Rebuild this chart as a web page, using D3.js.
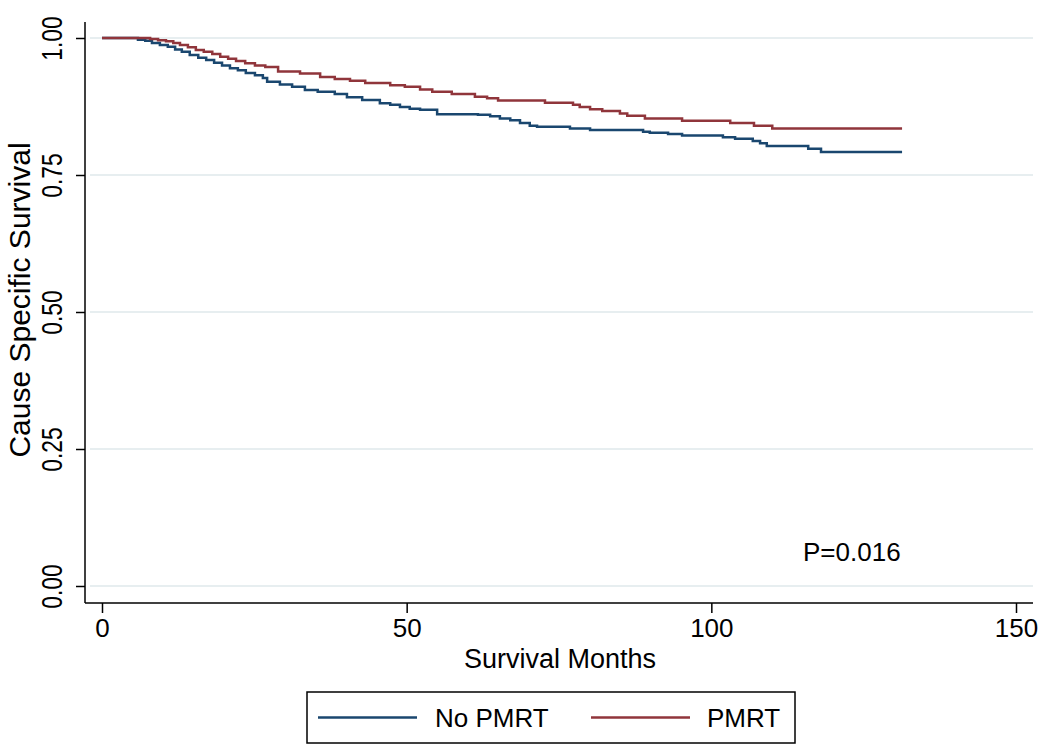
<!DOCTYPE html>
<html>
<head>
<meta charset="utf-8">
<script src="https://cdn.jsdelivr.net/npm/d3@7"></script>
<style>
  html, body { margin: 0; padding: 0; background: #ffffff; }
  svg { display: block; font-family: "Liberation Sans", Arial, Helvetica, sans-serif; }
</style>
</head>
<body>
<svg id="chart" width="1050" height="756"></svg>
<script>
// ---- data ----
const noPmrtMonths = [0, 5.9, 7.1, 8.2, 9.5, 10.8, 12.0, 13.1, 14.4, 15.8, 17.1, 18.4, 19.7, 21.0, 22.3, 23.6, 25.1, 26.4, 27.1, 29.2, 31.2, 33.3, 35.4, 38.2, 40.2, 42.7, 45.6, 47.3, 48.9, 50.5, 52.2, 55.0, 61.7, 63.7, 65.3, 67.0, 68.6, 70.2, 71.4, 76.8, 80.1, 88.8, 89.9, 92.9, 95.2, 101.9, 103.9, 106.8, 108.0, 109.1, 115.9, 118.0, 131.3];
const noPmrtSurv   = [1.000, 0.997, 0.995, 0.991, 0.987, 0.984, 0.979, 0.975, 0.969, 0.964, 0.960, 0.955, 0.950, 0.945, 0.941, 0.936, 0.932, 0.927, 0.920, 0.915, 0.911, 0.905, 0.902, 0.898, 0.892, 0.887, 0.881, 0.878, 0.874, 0.871, 0.869, 0.861, 0.860, 0.857, 0.853, 0.850, 0.845, 0.840, 0.838, 0.835, 0.832, 0.829, 0.827, 0.825, 0.822, 0.819, 0.816, 0.812, 0.808, 0.803, 0.798, 0.792, 0.792];

const pmrtMonths = [0, 7.9, 9.2, 10.5, 11.7, 12.8, 14.1, 15.4, 16.7, 18.1, 19.4, 20.7, 22.0, 23.5, 25.1, 26.8, 28.9, 32.5, 35.8, 38.2, 40.7, 43.2, 47.3, 49.7, 52.2, 54.2, 57.4, 61.2, 63.2, 65.0, 72.7, 77.3, 78.4, 80.1, 82.1, 85.0, 86.2, 89.1, 95.2, 103.1, 107.0, 110.0, 131.3];
const pmrtSurv   = [1.000, 0.998, 0.996, 0.994, 0.991, 0.987, 0.983, 0.978, 0.975, 0.971, 0.966, 0.962, 0.958, 0.954, 0.950, 0.947, 0.939, 0.935, 0.929, 0.925, 0.922, 0.918, 0.914, 0.911, 0.906, 0.902, 0.898, 0.893, 0.890, 0.886, 0.882, 0.878, 0.874, 0.870, 0.867, 0.862, 0.858, 0.853, 0.849, 0.845, 0.840, 0.835, 0.835];

const seriesNames = ["No PMRT", "PMRT"];
const xTicks = [0, 50, 100, 150];
const yTicks = [0, 0.25, 0.5, 0.75, 1.0];
const yTickLabels = ["0.00", "0.25", "0.50", "0.75", "1.00"];
const xTitle = "Survival Months";
const yTitle = "Cause Specific Survival";
const pLabel = "P=0.016";

// ---- layout ----
const colors = ["#1a476f", "#90353b"];
const svg = d3.select("#chart");
const x = d3.scaleLinear().domain([0, 150]).range([102, 1016]);
const y = d3.scaleLinear().domain([0, 1]).range([586, 38]);
const plotLeft = 85, plotRight = 1033, plotTop = 22, plotBottom = 603;

// gridlines
svg.append("g").selectAll("line").data(yTicks).join("line")
  .attr("x1", plotLeft + 5).attr("x2", plotRight)
  .attr("y1", d => y(d)).attr("y2", d => y(d))
  .attr("stroke", "#e7eef0").attr("stroke-width", 2);

// x axis
const xAxis = d3.axisBottom(x).tickValues(xTicks).tickSize(10).tickSizeOuter(0).tickPadding(6).tickFormat(d3.format("d"));
const gx = svg.append("g").attr("transform", `translate(0,${plotBottom})`).call(xAxis);
gx.select(".domain").remove();
gx.selectAll(".tick line").attr("stroke", "#000").attr("stroke-width", 1.5);
gx.selectAll(".tick text").attr("font-size", 26).attr("fill", "#000")
  .attr("font-family", "'Liberation Sans', Arial, sans-serif");

// y axis
const yAxis = d3.axisLeft(y).tickValues(yTicks).tickSize(9).tickSizeOuter(0).tickFormat((d, i) => yTickLabels[i]);
const gy = svg.append("g").attr("transform", `translate(${plotLeft},0)`).call(yAxis);
gy.select(".domain").remove();
gy.selectAll(".tick line").attr("stroke", "#000").attr("stroke-width", 1.5);
gy.selectAll(".tick text")
  .attr("font-size", 30).attr("fill", "#000")
  .attr("font-family", "'Liberation Sans', Arial, sans-serif")
  .attr("text-anchor", "middle").attr("dy", 0)
  .attr("x", 0)
  .attr("transform", "translate(-23,0) rotate(-90) scale(0.76,1)");

// axis lines
svg.append("line").attr("x1", plotLeft).attr("x2", plotLeft).attr("y1", plotTop).attr("y2", plotBottom)
  .attr("stroke", "#000").attr("stroke-width", 1.5);
svg.append("line").attr("x1", plotLeft).attr("x2", plotRight).attr("y1", plotBottom).attr("y2", plotBottom)
  .attr("stroke", "#000").attr("stroke-width", 1.5);

// curves
const line = d3.line().x(d => x(d[0])).y(d => y(d[1])).curve(d3.curveStepAfter);
const series = [
  noPmrtMonths.map((m, i) => [m, noPmrtSurv[i]]),
  pmrtMonths.map((m, i) => [m, pmrtSurv[i]])
];
svg.append("g").selectAll("path").data(series).join("path")
  .attr("d", line).attr("fill", "none")
  .attr("stroke", (d, i) => colors[i]).attr("stroke-width", 2.5);

// titles
svg.append("text").attr("x", 560).attr("y", 668).attr("text-anchor", "middle")
  .attr("font-size", 27).attr("fill", "#000").text(xTitle);
svg.append("text").attr("transform", "translate(30,300) rotate(-90)").attr("text-anchor", "middle")
  .attr("font-size", 30).attr("fill", "#000").text(yTitle);

// P value
svg.append("text").attr("x", 803).attr("y", 561).attr("font-size", 26).attr("fill", "#000").text(pLabel);

// legend
const lg = svg.append("g");
lg.append("rect").attr("x", 307).attr("y", 692).attr("width", 488).attr("height", 51)
  .attr("fill", "#fff").attr("stroke", "#000").attr("stroke-width", 1.5);
const legendItems = [
  { lx1: 318, lx2: 417, tx: 435 },
  { lx1: 591, lx2: 690, tx: 707 }
];
legendItems.forEach((it, i) => {
  lg.append("line").attr("x1", it.lx1).attr("x2", it.lx2).attr("y1", 717.5).attr("y2", 717.5)
    .attr("stroke", colors[i]).attr("stroke-width", 2.5);
  lg.append("text").attr("x", it.tx).attr("y", 727).attr("font-size", 26).attr("fill", "#000").text(seriesNames[i]);
});
</script>
</body>
</html>
